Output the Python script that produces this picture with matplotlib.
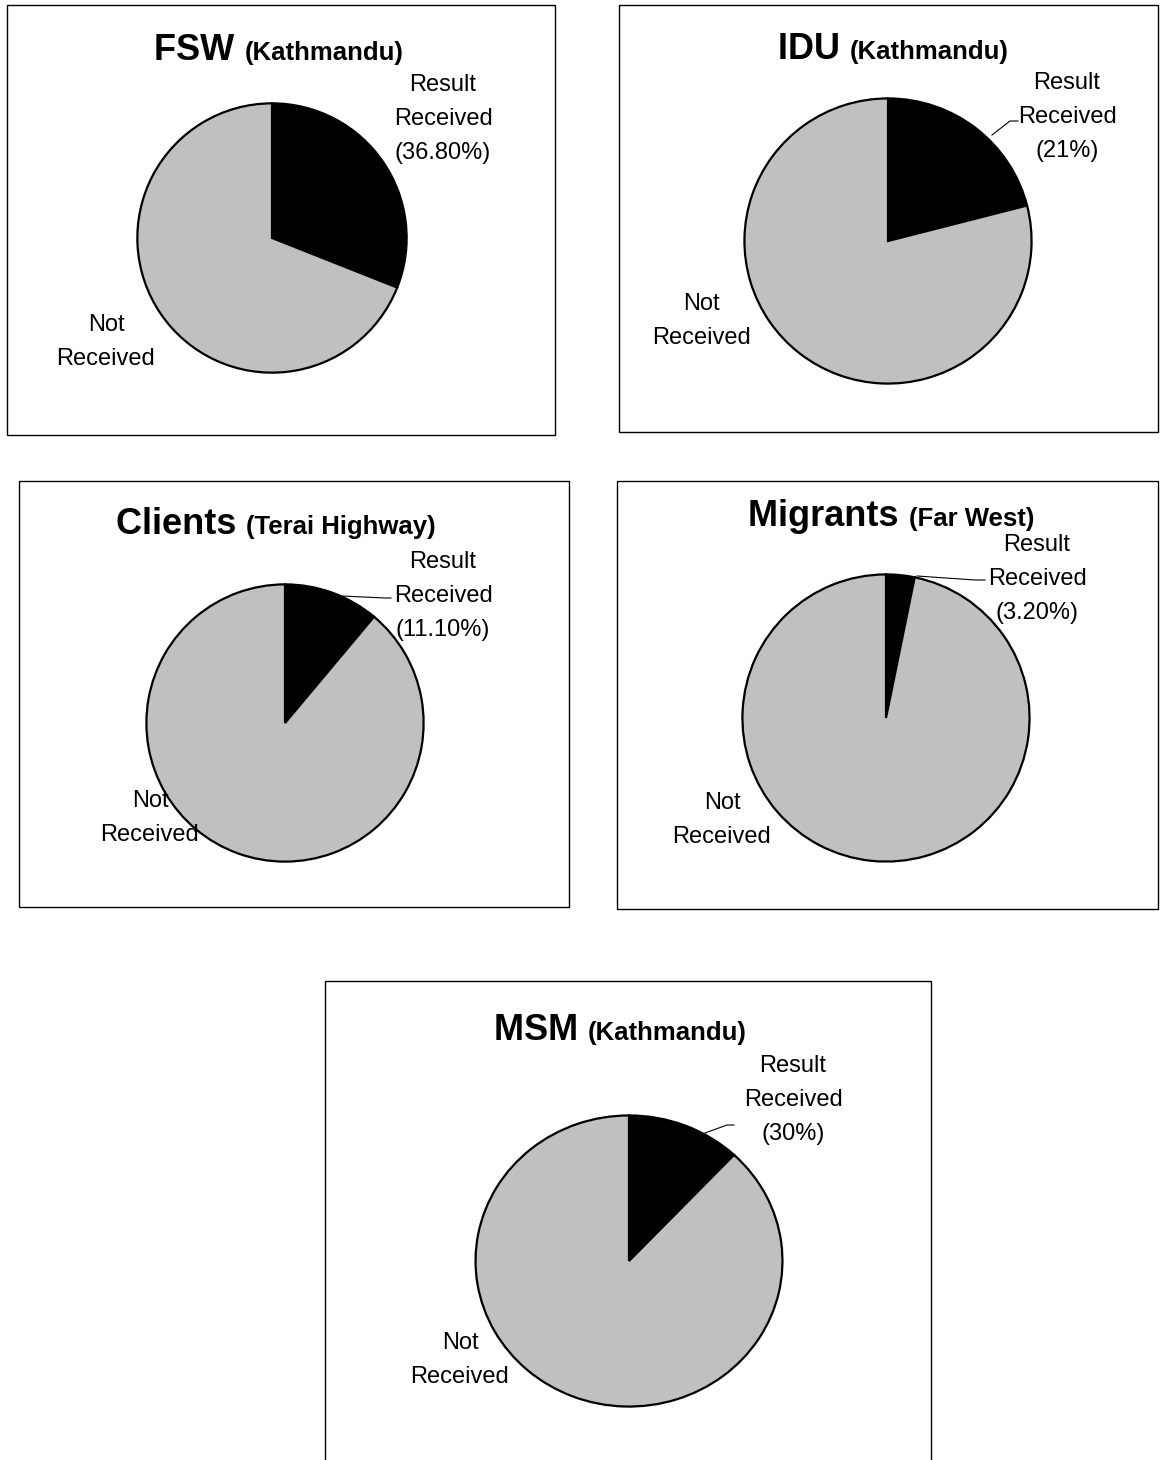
import matplotlib
matplotlib.use("Agg")
import matplotlib.pyplot as plt
from matplotlib.patches import Rectangle
from matplotlib.lines import Line2D

plt.rcParams['font.family'] = ['Liberation Sans', 'DejaVu Sans']

W, H = 1160, 1460

# ---- data ----
groups = ["FSW", "IDU", "Clients", "Migrants", "MSM"]
places = ["(Kathmandu)", "(Kathmandu)", "(Terai Highway)", "(Far West)", "(Kathmandu)"]
result_received = [31.0, 21.0, 11.1, 3.2, 12.0]     # slice sizes as drawn (%)
received_labels = ["36.80%", "21%", "11.10%", "3.20%", "30%"]
slice_names = ["Result Received", "Not Received"]
slice_colors = ["#000000", "#c0c0c0"]

# ---- layout (pixels) ----
boxes = [(7, 5, 555, 435), (619, 5, 1158, 432), (19, 481, 569, 907),
         (617, 481, 1158, 909), (325, 981, 931, 1475)]
pies = [(272, 238, 136, 136), (888, 241, 145, 144), (285, 723, 140, 140),
        (886, 718, 145, 145), (629, 1261, 155, 147)]
titles = [(279, 60), (893, 59), (276, 534), (891, 526), (620, 1040)]
res_lab = [(443, 119), (1067, 117), (443, 596), (1037, 579), (793, 1100)]
not_lab = [(106, 342), (701, 321), (150, 818), (722, 820), (460, 1360)]
leaders = [None,
           [(992, 135), (1010, 121), (1018, 121)],
           [(342, 596), (385, 598), (391, 598)],
           [(917, 576), (975, 580), (985, 580)],
           [(705, 1133), (727, 1125), (734, 1125)]]

fig = plt.figure(figsize=(W / 100, H / 100), dpi=100)
fig.patch.set_facecolor("white")


def fx(x):
    return x / W


def fy(y):
    return 1 - y / H


for i in range(5):
    x0, y0, x1, y1 = boxes[i]
    fig.add_artist(Rectangle((fx(x0), fy(y1)), fx(x1 - x0), (y1 - y0) / H,
                             transform=fig.transFigure, fill=False,
                             edgecolor="black", linewidth=1.0, zorder=0))

    cx, cy, rx, ry = pies[i]
    ax = fig.add_axes([fx(cx - rx), fy(cy + ry), 2 * rx / W, 2 * ry / H])
    vals = [result_received[i], 100 - result_received[i]]
    ax.pie(vals, colors=slice_colors, startangle=90, counterclock=False,
           radius=1.0,
           wedgeprops=dict(edgecolor="black", linewidth=1.6))
    ax.set_aspect("auto")
    ax.set_xlim(-1.01, 1.01)
    ax.set_ylim(-1.01, 1.01)
    ax.axis("off")

    tx, base = titles[i]
    t1 = fig.text(0, fy(base), groups[i] + " ", fontsize=26, fontweight="bold",
                  ha="left", va="baseline")
    t2 = fig.text(0, fy(base), places[i], fontsize=18.5, fontweight="bold",
                  ha="left", va="baseline")
    fig.canvas.draw()
    r = fig.canvas.get_renderer()
    w1 = t1.get_window_extent(r).width
    w2 = t2.get_window_extent(r).width
    left = tx - (w1 + w2) / 2
    t1.set_position((fx(left), fy(base)))
    t2.set_position((fx(left + w1), fy(base)))

    rx_, ry_ = res_lab[i]
    fig.text(fx(rx_), fy(ry_), "Result\nReceived\n(" + received_labels[i] + ")",
             fontsize=17, ha="center", va="center", linespacing=1.68)
    nx, ny = not_lab[i]
    fig.text(fx(nx), fy(ny), "Not\nReceived", fontsize=17, ha="center",
             va="center", linespacing=1.68)

    if leaders[i] is not None:
        xs = [fx(p[0]) for p in leaders[i]]
        ys = [fy(p[1]) for p in leaders[i]]
        fig.add_artist(Line2D(xs, ys, transform=fig.transFigure,
                              color="black", linewidth=0.8))

fig.savefig("out.png", dpi=100, facecolor="white")
